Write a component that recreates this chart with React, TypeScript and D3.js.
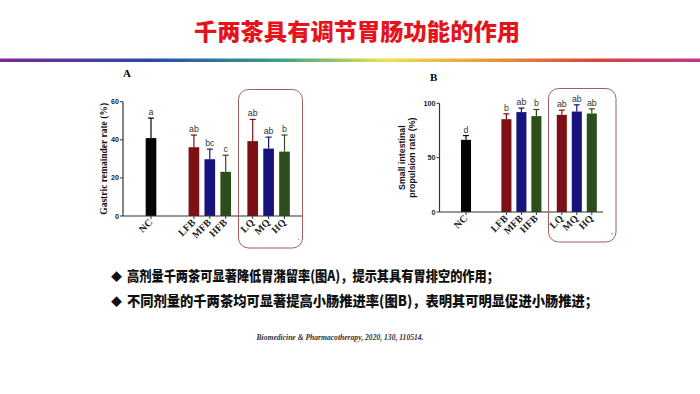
import * as d3 from "d3";

// data
const groups = [["NC"], ["LFB", "MFB", "HFB"], ["LQ", "MQ", "HQ"]];
const groupNames = ["ctrl", "FB", "Q"];
const categories = ["NC", "LFB", "MFB", "HFB", "LQ", "MQ", "HQ"];

const gastricMean = [40.9, 36.1, 29.8, 23.2, 39.3, 35.4, 33.8];
const gastricSD = [10.5, 6.4, 5.3, 8.7, 11.4, 6.0, 8.7];
const gastricLetters = ["a", "ab", "bc", "c", "ab", "ab", "b"];
const gastricTicks = [0, 20, 40, 60];

const propulsionMean = [66.4, 85.4, 91.9, 88.2, 89.4, 92.4, 90.6];
const propulsionSD = [3.9, 4.9, 3.7, 6.1, 4.3, 6.2, 4.3];
const propulsionLetters = ["d", "b", "ab", "b", "ab", "ab", "ab"];
const propulsionTicks = [0, 50, 100];

const barColors = ["#050505", "#7d1014", "#16137c", "#2b4e1b", "#7d1014", "#16137c", "#2b4e1b"];

const serif = "'Liberation Serif', 'DejaVu Serif', serif";
const sans = "'Liberation Sans', Arial, sans-serif";
const cjk = "'Noto Sans CJK SC', sans-serif";

interface PanelProps {
  label: string;
  values: number[];
  sds: number[];
  letters: string[];
  ticks: number[];
  yMax: number;
  axisX: [number, number];
  y0: number;
  yTop: number;
  centers: [number, number];
  step: number;
  box: [number, number, number, number];
  yTitle: string[];
  yTitleFont: string;
  yTitleX: number[];
  labelPos: [number, number];
  mark: string;
}

const Panel = (p: PanelProps) => {
  const outer = d3.scalePoint<string>().domain(groupNames).range(p.centers);
  const xOf = (cat: string) => {
    const gi = groups.findIndex((g) => g.includes(cat));
    const g = groups[gi];
    const inner = d3
      .scaleBand<string>()
      .domain(g)
      .range([(-g.length * p.step) / 2, (g.length * p.step) / 2])
      .paddingInner(0.33)
      .paddingOuter(0.165);
    return { x: (outer(groupNames[gi]) as number) + (inner(cat) as number), w: inner.bandwidth() };
  };
  const y = d3.scaleLinear().domain([0, p.yMax]).range([p.y0, p.yTop]);
  const midY = (p.y0 + p.yTop) / 2;

  return (
    <g>
      <text x={p.labelPos[0]} y={p.labelPos[1]} fontFamily={serif} fontWeight="bold" fontSize={11}>
        {p.label}
      </text>
      {p.yTitle.map((t, i) => (
        <text
          key={t}
          transform={`translate(${p.yTitleX[i]},${midY}) rotate(-90)`}
          textAnchor="middle"
          fontFamily={p.yTitleFont}
          fontWeight="bold"
          fontSize={p.yTitleFont === serif ? 9.5 : 8.8}
          fill="#111"
        >
          {t}
        </text>
      ))}
      {categories.map((c, i) => {
        const { x, w } = xOf(c);
        const top = y(p.values[i]);
        const errTop = y(p.values[i] + p.sds[i]);
        const cx = x + w / 2;
        return (
          <g key={c}>
            <rect x={x} y={top} width={w} height={p.y0 - top} fill={barColors[i]} />
            <line x1={cx} x2={cx} y1={top} y2={errTop} stroke={barColors[i]} strokeWidth={1.2} />
            <line x1={cx - 3} x2={cx + 3} y1={errTop} y2={errTop} stroke={barColors[i]} strokeWidth={1.2} />
            <text x={cx} y={errTop - 3} textAnchor="middle" fontFamily={sans} fontSize={8.8} fill="#333">
              {p.letters[i]}
            </text>
            <line x1={cx} x2={cx} y1={p.y0} y2={p.y0 + 3} stroke="#333" strokeWidth={1} />
            <text
              transform={`translate(${cx + 2},${p.y0 + 7}) rotate(-45)`}
              textAnchor="end"
              fontFamily={serif}
              fontWeight="bold"
              fontSize={10}
              fill="#222"
            >
              {c}
            </text>
          </g>
        );
      })}
      <line x1={p.axisX[0]} x2={p.axisX[0]} y1={y(p.yMax)} y2={p.y0} stroke="#333" strokeWidth={1.2} />
      <line x1={p.axisX[0]} x2={p.axisX[1]} y1={p.y0} y2={p.y0} stroke="#333" strokeWidth={1.2} />
      {p.ticks.map((t) => (
        <g key={t}>
          <line x1={p.axisX[0] - 3} x2={p.axisX[0]} y1={y(t)} y2={y(t)} stroke="#333" strokeWidth={1} />
          <text
            x={p.axisX[0] - 4}
            y={y(t) + 2.5}
            textAnchor="end"
            fontFamily={sans}
            fontWeight="bold"
            fontSize={7.2}
            fill="#222"
          >
            {t}
          </text>
        </g>
      ))}
      <rect
        x={p.box[0]}
        y={p.box[1]}
        width={p.box[2] - p.box[0]}
        height={p.box[3] - p.box[1]}
        rx={10}
        fill="none"
        stroke="#a0605e"
        strokeWidth={1}
      />
      <text x={p.box[2] - 5} y={p.box[3] - 8} fontFamily={serif} fontSize={8} fill="#333">
        {p.mark}
      </text>
    </g>
  );
};

const App = () => {
  return (
    <svg width={700} height={394} style={{ position: "absolute", left: 0, top: 0, background: "#fff" }}>
      <defs>
        <linearGradient id="rainbow" x1="0" x2="1" y1="0" y2="0">
          <stop offset="0" stopColor="#7a2a98" />
          <stop offset="0.22" stopColor="#2b4ba3" />
          <stop offset="0.4" stopColor="#3aa08a" />
          <stop offset="0.55" stopColor="#eee24a" />
          <stop offset="0.7" stopColor="#e49a3a" />
          <stop offset="0.85" stopColor="#d8443e" />
          <stop offset="1" stopColor="#b83a8a" />
        </linearGradient>
      </defs>
      <rect width={700} height={394} fill="#fff" />
      <text
        x={357}
        y={40}
        textAnchor="middle"
        fontFamily={cjk}
        fontWeight={900}
        fontSize={22.5}
        fill="#e5141c"
        textLength={326}
        lengthAdjust="spacingAndGlyphs"
      >
        千两茶具有调节胃肠功能的作用
      </text>
      <rect x={0} y={58.5} width={700} height={3.5} fill="url(#rainbow)" />

      <Panel
        label="A"
        values={gastricMean}
        sds={gastricSD}
        letters={gastricLetters}
        ticks={gastricTicks}
        yMax={60}
        axisX={[123, 303]}
        y0={216}
        yTop={101.7}
        centers={[151, 268.6]}
        step={15.9}
        box={[238.5, 89.5, 302.5, 248]}
        yTitle={["Gastric remainder rate (%)"]}
        yTitleFont={serif}
        yTitleX={[107]}
        labelPos={[123, 77]}
        mark="."
      />
      <Panel
        label="B"
        values={propulsionMean}
        sds={propulsionSD}
        letters={propulsionLetters}
        ticks={propulsionTicks}
        yMax={100}
        axisX={[439.5, 603]}
        y0={212}
        yTop={103.3}
        centers={[466, 576.8]}
        step={15}
        box={[548.5, 88.5, 616, 242]}
        yTitle={["Small intestinal", "propulsion rate (%)"]}
        yTitleFont={sans}
        yTitleX={[404.5, 414.5]}
        labelPos={[430, 81]}
        mark=","
      />

      <text x={111} y={280.5} fontFamily={cjk} fontSize={11} fill="#111">
        ◆
      </text>
      <text
        x={127}
        y={281}
        fontFamily={cjk}
        fontWeight={900}
        fontSize={14}
        fill="#111"
        textLength={372}
        lengthAdjust="spacingAndGlyphs"
      >
        高剂量千两茶可显著降低胃潴留率(图A)，提示其具有胃排空的作用；
      </text>
      <text x={111} y={305.5} fontFamily={cjk} fontSize={11} fill="#111">
        ◆
      </text>
      <text
        x={127}
        y={306}
        fontFamily={cjk}
        fontWeight={900}
        fontSize={14}
        fill="#111"
        textLength={471}
        lengthAdjust="spacingAndGlyphs"
      >
        不同剂量的千两茶均可显著提高小肠推进率(图B)，表明其可明显促进小肠推进；
      </text>
      <text
        x={340}
        y={340}
        textAnchor="middle"
        fontFamily={serif}
        fontStyle="italic"
        fontWeight="bold"
        fontSize={7.6}
        fill="#333"
      >
        Biomedicine &amp; Pharmacotherapy, 2020, 130, 110514.
      </text>
    </svg>
  );
};

export default App;
